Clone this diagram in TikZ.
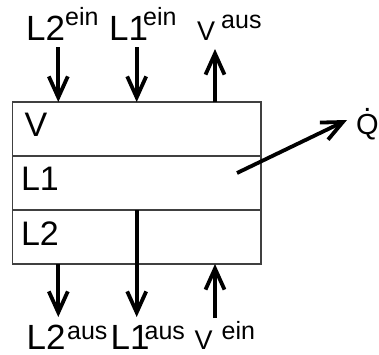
\documentclass[tikz,border=0pt]{standalone}
\usepackage{fontspec}
\setmainfont{Liberation Sans}
\usetikzlibrary{arrows.meta}
\newcommand\bigtxt{\fontsize{35}{40}\selectfont}
\newcommand\boxtxt{\fontsize{34}{40}\selectfont}
\newcommand\midtxt{\fontsize{27}{31}\selectfont}
\newcommand\suptxt{\fontsize{25}{29}\selectfont}
\begin{document}
\begin{tikzpicture}[x=1pt,y=-1pt,
  rowbox/.style={draw=black!75, line width=1.3pt, minimum width=248.5pt, minimum height=54pt, inner sep=0pt, outer sep=0pt, anchor=north west},
  lbl/.style={inner sep=0pt, anchor=base west},
  flow/.style={line width=3.8pt, -{Straight Barb[length=21pt,width=19pt]}}]
\useasboundingbox (0,0) rectangle (379,354);
% box rows
\node[rowbox] (rV)  at (12.5,102) {};
\node[rowbox] (rL1) at (12.5,156) {};
\node[rowbox] (rL2) at (12.5,210) {};
\node[lbl] (tV)  at (24.5,136) {\boxtxt V};
\node[lbl] (tL1) at (20.8,190) {\boxtxt L1};
\node[lbl] (tL2) at (20.8,245) {\boxtxt L2};
% top labels
\node[lbl] (L2ein) at (26,40) {\bigtxt L2\kern0pt\raisebox{15pt}{\suptxt ein}};
\node[lbl] (L1ein) at (109,40) {\bigtxt L1\kern-5pt\raisebox{15pt}{\suptxt ein}};
\node[lbl] (Vaus) at (197,40) {\midtxt V\kern6pt\raisebox{12pt}{\suptxt aus}};
% bottom labels
\node[lbl] (L2aus) at (26.5,349.5) {\bigtxt L2\kern1.5pt\raisebox{10pt}{\suptxt aus}};
\node[lbl] (L1aus) at (110.5,349.5) {\bigtxt L1\kern-5pt\raisebox{10pt}{\suptxt aus}};
\node[lbl] (Vein) at (194.5,349.5) {\midtxt V\kern9pt\raisebox{10pt}{\suptxt ein}};
% Q dot
\node[lbl] (Q) at (356,134) {\fontsize{29}{34}\selectfont\ooalign{Q\cr\hidewidth\raisebox{23pt}{.}\hidewidth\cr}};
% arrow free ends
\coordinate (inL2)  at (58.3,47);
\coordinate (inL1)  at (136.7,47);
\coordinate (outV)  at (215,49);
\coordinate (outL2) at (58.3,317);
\coordinate (outL1) at (136.7,317);
\coordinate (inV)   at (215,318);
\coordinate (qs)    at (237,173);
\coordinate (qe)    at (347,120);
% arrows
\draw[flow] (inL2) -- (inL2 |- rV.north);
\draw[flow] (inL1) -- (inL1 |- rV.north);
\draw[flow] (outV |- rV.north) -- (outV);
\draw[flow] (outL2 |- rL2.south) -- (outL2);
\draw[flow] (outL1 |- rL2.north) -- (outL1);
\draw[flow] (inV) -- (inV |- rL2.south);
\draw[flow] (qs) -- (qe);
\end{tikzpicture}
\end{document}
